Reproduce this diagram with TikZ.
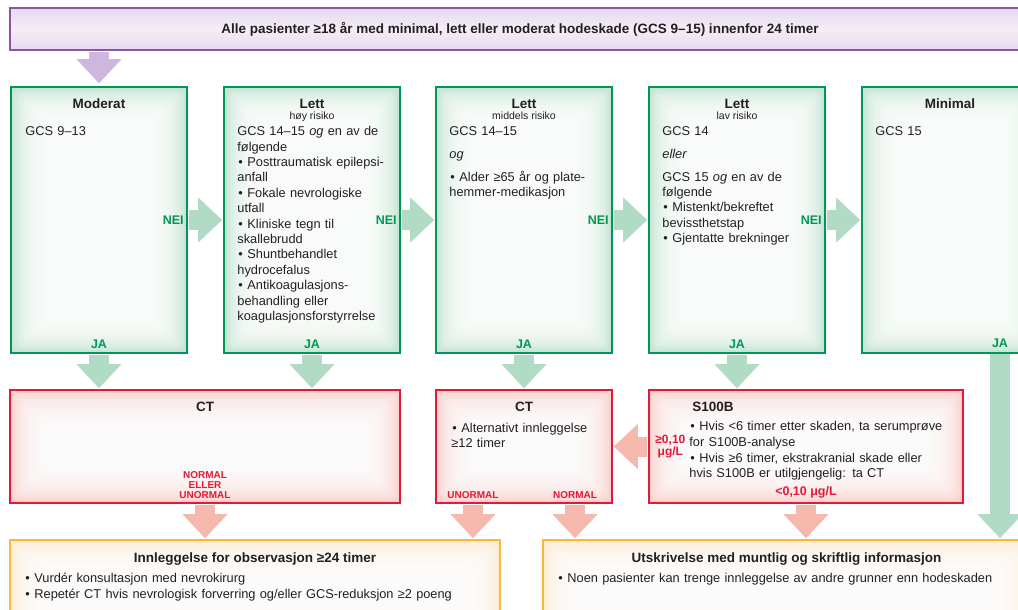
\documentclass[tikz,border=0pt]{standalone}
\usepackage{fontspec}
\setmainfont{Liberation Sans}
\usetikzlibrary{positioning,arrows.meta}

\definecolor{hgreen}{RGB}{0,150,85}
\definecolor{hgreentint}{RGB}{198,229,213}
\definecolor{hgreenarrow}{RGB}{178,219,198}
\definecolor{hred}{RGB}{228,24,58}
\definecolor{hredtint}{RGB}{248,210,205}
\definecolor{hredarrow}{RGB}{244,184,172}
\definecolor{horange}{RGB}{247,186,52}
\definecolor{horangetint}{RGB}{252,236,214}
\definecolor{hpurple}{RGB}{140,84,162}
\definecolor{hpurpletint}{RGB}{230,217,239}
\definecolor{hpurplearrow}{RGB}{206,183,223}
\definecolor{htext}{RGB}{35,31,32}

% bullet line with hanging indent
\newcommand{\itm}[1]{\par\noindent\hangindent=10pt\hangafter=1\makebox[10pt][l]{\hspace{1pt}•}#1}

\begin{document}
\begin{tikzpicture}[x=1pt,y=-1pt,
    every node/.style={text=htext},
    glow/.style={path picture={\foreach \k in {1,...,12}
        \fill[white,opacity=0.2,rounded corners=6pt]
          ([shift={(\k*3pt,-\k*3pt)}]path picture bounding box.north west) rectangle
          ([shift={(-\k*3pt,\k*3pt)}]path picture bounding box.south east);}},
    greenbox/.style={draw=hgreen,line width=1.6pt,fill=hgreentint,glow,minimum width=176pt,minimum height=266pt},
    redbox/.style={draw=hred,line width=1.6pt,fill=hredtint,glow,minimum height=113pt},
    orangebox/.style={draw=horange,line width=1.6pt,fill=horangetint,glow,minimum height=100pt},
    head/.style={font=\bfseries\fontsize{13.5}{15}\selectfont,inner sep=0pt},
    sub/.style={font=\fontsize{10.5}{11}\selectfont,inner sep=0pt},
    body/.style={font=\fontsize{12.8}{15.4}\selectfont,inner sep=0pt,align=left,text width=#1},
    lab/.style={text=hgreen,font=\bfseries\fontsize{12.5}{12}\selectfont,inner sep=0pt},
    rlab/.style={text=hred,font=\bfseries\fontsize{10}{10}\selectfont,inner sep=0pt,align=center},
    garrow/.style={draw=hgreenarrow,line width=20pt,shorten <=1pt,shorten >=1pt,-{Triangle[length=24pt,width=45pt,line width=0pt]}},
    rarrow/.style={garrow,draw=hredarrow},
    parrow/.style={garrow,draw=hpurplearrow}]
  \fill[white] (0,0) rectangle (1018,610);
  \path[use as bounding box,clip] (0,0) rectangle (1018,610);

  % top
  \node[draw=hpurple,line width=1.6pt,top color=hpurpletint,bottom color=hpurpletint,middle color=hpurpletint!45,
    minimum width=1020pt,minimum height=42pt,font=\bfseries\fontsize{13.5}{13}\selectfont] (top) at (520,29)
    {Alle pasienter ≥18 år med minimal, lett eller moderat hodeskade (GCS 9–15) innenfor 24 timer};

  % green row
  \node[greenbox] (g1) at (99,220) {};
  \node[greenbox] (g2) at (312,220) {};
  \node[greenbox] (g3) at (524,220) {};
  \node[greenbox] (g4) at (737,220) {};
  \node[greenbox] (g5) at (950,220) {};

  \node[head,below=12.5pt of g1.north] (h1) {Moderat};
  \node[head,below=12.5pt of g2.north] (h2) {Lett};
  \node[head,below=12.5pt of g3.north] (h3) {Lett};
  \node[head,below=12.5pt of g4.north] (h4) {Lett};
  \node[head,below=12.5pt of g5.north] (h5) {Minimal};
  \node[sub,below=3.5pt of h2] (s2) {høy risiko};
  \node[sub,below=3.5pt of h3] (s3) {middels risiko};
  \node[sub,below=3.5pt of h4] (s4) {lav risiko};

  \node[body=158pt,below right=40pt and 15pt of g1.north west] (b1) {GCS 9–13};
  \node[body=158pt,below right=40pt and 14pt of g2.north west] (b2) {GCS 14–15 \textit{og} en av de\\følgende
    \itm{Posttraumatisk epilepsi-\\anfall}
    \itm{Fokale nevrologiske\\utfall}
    \itm{Kliniske tegn til\\skallebrudd}
    \itm{Shuntbehandlet\\hydrocefalus}
    \itm{Antikoagulasjons-\\behandling eller\\koagulasjonsforstyrrelse}};
  \node[body=158pt,below right=40pt and 14pt of g3.north west] (b3) {GCS 14–15\par\vspace{8pt}\textit{og}\par\vspace{7pt}
    \itm{Alder ≥65 år og plate-\\hemmer-medikasjon}};
  \node[body=158pt,below right=40pt and 14pt of g4.north west] (b4) {GCS 14\par\vspace{8pt}\textit{eller}\par\vspace{7pt}
    GCS 15 \textit{og} en av de\\følgende
    \itm{Mistenkt/bekreftet\\bevissthetstap}
    \itm{Gjentatte brekninger}};
  \node[body=158pt,below right=40pt and 14pt of g5.north west] (b5) {GCS 15};

  \node[lab,left=4pt of g1.east] (nei1) {NEI};
  \node[lab,left=4pt of g2.east] (nei2) {NEI};
  \node[lab,left=4pt of g3.east] (nei3) {NEI};
  \node[lab,left=4pt of g4.east] (nei4) {NEI};
  \node[lab,above=5pt of g1.south] (ja1) {JA};
  \node[lab,above=5pt of g2.south] (ja2) {JA};
  \node[lab,above=5pt of g3.south] (ja3) {JA};
  \node[lab,above=5pt of g4.south] (ja4) {JA};
  \coordinate (j5) at (1000,353);
  \node[lab,above=5pt of j5] (ja5) {JA};

  % red row
  \node[redbox,minimum width=390pt] (ct1) at (205,446.5) {};
  \node[redbox,minimum width=176pt] (ct2) at (524,446.5) {};
  \node[redbox,minimum width=314pt] (sb) at (806,446.5) {};

  \node[head,below=13pt of ct1.north] (t1) {CT};
  \node[rlab,above=5pt of ct1.south] (r1) {NORMAL\\ELLER\\UNORMAL};
  \node[head,below=13pt of ct2.north] (t2) {CT};
  \node[body=158pt,below right=27.5pt and 16pt of ct2.north west] (b6) {\itm{Alternativt innleggelse\\≥12 timer}};
  \coordinate (unorm) at ([xshift=-51pt]ct2.south);
  \coordinate (norm) at ([xshift=51pt]ct2.south);
  \node[rlab,above=5pt of unorm] (r2) {UNORMAL};
  \node[rlab,above=5pt of norm] (r3) {NORMAL};
  \node[body=265pt,below right=13pt and 41pt of sb.north west] (b7) {{\bfseries\fontsize{13.5}{15}\selectfont\hspace*{3pt}S100B}\par\vspace{3.5pt}
    \itm{Hvis <6 timer etter skaden, ta serumprøve\\for S100B-analyse}\par\vspace{1pt}
    \itm{Hvis ≥6 timer, ekstrakranial skade eller\\hvis S100B er utilgjengelig: ta CT}};
  \node[rlab,font=\bfseries\fontsize{12}{10}\selectfont,right=7pt of sb.west] (r4) {≥0,10\\μg/L};
  \node[rlab,font=\bfseries\fontsize{12.5}{11}\selectfont,above=5pt of sb.south] (r5) {<0,10 μg/L};

  % bottom row
  \node[orangebox,minimum width=490pt] (obs) at (255,590) {};
  \node[orangebox,minimum width=487pt] (dis) at (786.5,590) {};
  \node[head,below=13pt of obs.north] (t3) {Innleggelse for observasjon ≥24 timer};
  \node[body=470pt,below right=28pt and 15pt of obs.north west] (b8) {\itm{Vurdér konsultasjon med nevrokirurg}
    \itm{Repetér CT hvis nevrologisk forverring og/eller GCS-reduksjon ≥2 poeng}};
  \node[head,below=13pt of dis.north] (t4) {Utskrivelse med muntlig og skriftlig informasjon};
  \node[body=465pt,below right=28pt and 15pt of dis.north west] (b9) {\itm{Noen pasienter kan trenge innleggelse av andre grunner enn hodeskaden}};

  % arrows
  \draw[parrow,shorten >=3pt] (top.south -| g1.north) -- (g1.north);
  \foreach \a/\b in {g1/g2,g2/g3,g3/g4,g4/g5}
    \draw[garrow] (\a.east) -- (\b.west);
  \draw[garrow] (g1.south) -- (g1.south |- ct1.north);
  \draw[garrow] (g2.south) -- (g2.south |- ct1.north);
  \draw[garrow] (g3.south) -- (ct2.north);
  \draw[garrow] (g4.south) -- (g4.south |- sb.north);
  \draw[garrow] (j5) -- (j5 |- dis.north);
  \draw[rarrow] (ct1.south) -- (ct1.south |- obs.north);
  \draw[rarrow] (unorm) -- (unorm |- obs.north);
  \draw[rarrow] (norm) -- (norm |- dis.north);
  \draw[rarrow] (sb.south) -- (sb.south |- dis.north);
  \draw[rarrow] (sb.west) -- (ct2.east);
\end{tikzpicture}
\end{document}
